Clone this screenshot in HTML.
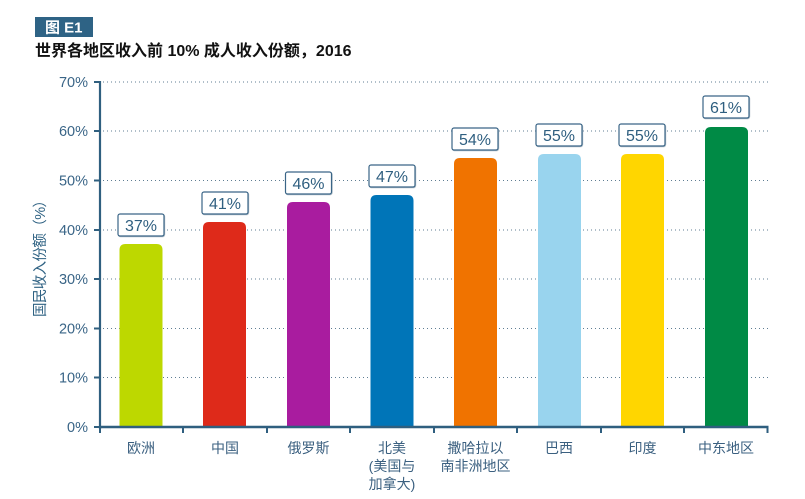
<!DOCTYPE html>
<html>
<head>
<meta charset="utf-8">
<style>
html,body{margin:0;padding:0;background:#fff;}
body{width:805px;height:499px;overflow:hidden;}
svg{display:block;}
</style>
</head>
<body>
<svg width="805" height="499" viewBox="0 0 805 499" xmlns="http://www.w3.org/2000/svg">
  <!-- badge -->
  <rect x="35" y="17" width="58" height="20" fill="#2E6385"/>
  <text x="45" y="32.5" font-family="Liberation Sans, Noto Sans CJK SC, sans-serif" font-size="15" font-weight="bold" fill="#ffffff">图 E1</text>
  <!-- title -->
  <text x="35" y="56" font-family="Liberation Sans, Noto Sans CJK SC, sans-serif" font-size="16" font-weight="bold" fill="#111">世界各地区收入前 10% 成人收入份额，2016</text>

  <!-- gridlines -->
  <g stroke="#5F7D93" stroke-width="1" stroke-dasharray="1 3">
    <line x1="103" y1="82" x2="768" y2="82"/>
    <line x1="103" y1="131" x2="768" y2="131"/>
    <line x1="103" y1="180.5" x2="768" y2="180.5"/>
    <line x1="103" y1="230" x2="768" y2="230"/>
    <line x1="103" y1="279" x2="768" y2="279"/>
    <line x1="103" y1="328.5" x2="768" y2="328.5"/>
    <line x1="103" y1="377.5" x2="768" y2="377.5"/>
  </g>

  <!-- y tick labels -->
  <g font-family="Liberation Sans, sans-serif" font-size="14.5" fill="#3A6587" text-anchor="end">
    <text x="88" y="87">70%</text>
    <text x="88" y="136">60%</text>
    <text x="88" y="185.5">50%</text>
    <text x="88" y="235">40%</text>
    <text x="88" y="284">30%</text>
    <text x="88" y="333.5">20%</text>
    <text x="88" y="382.5">10%</text>
    <text x="88" y="432">0%</text>
  </g>

  <!-- y axis label -->
  <text transform="translate(45,255) rotate(-90)" text-anchor="middle" font-family="Liberation Sans, Noto Sans CJK SC, sans-serif" font-size="14.5" fill="#2F6283" textLength="124" lengthAdjust="spacing">国民收入份额（%）</text>

  <!-- bars -->
  <g>
    <path d="M119.5,427 V250 Q119.5,244 125.5,244 H156.5 Q162.5,244 162.5,250 V427 Z" fill="#BDD800"/>
    <path d="M203,427 V228 Q203,222 209,222 H240 Q246,222 246,228 V427 Z" fill="#DE2A1A"/>
    <path d="M287,427 V208 Q287,202 293,202 H324 Q330,202 330,208 V427 Z" fill="#A91C9F"/>
    <path d="M370.5,427 V201 Q370.5,195 376.5,195 H407.5 Q413.5,195 413.5,201 V427 Z" fill="#0075B8"/>
    <path d="M454,427 V164 Q454,158 460,158 H491 Q497,158 497,164 V427 Z" fill="#F07300"/>
    <path d="M538,427 V160 Q538,154 544,154 H575 Q581,154 581,160 V427 Z" fill="#99D4EE"/>
    <path d="M621,427 V160 Q621,154 627,154 H658 Q664,154 664,160 V427 Z" fill="#FFD600"/>
    <path d="M705,427 V133 Q705,127 711,127 H742 Q748,127 748,133 V427 Z" fill="#008A45"/>
  </g>

  <!-- value boxes -->
  <g font-family="Liberation Sans, sans-serif" font-size="16" fill="#2F5F80" text-anchor="middle">
    <g>
      <rect x="118.6" y="214.6" width="46" height="22" rx="2" fill="#fff" stroke="#B3C0CA" stroke-width="1.2"/>
      <rect x="118" y="214" width="46" height="22" rx="2" fill="#fff" stroke="#3A6587" stroke-width="1.2"/>
      <text x="141" y="231">37%</text>
    </g>
    <g>
      <rect x="202.6" y="192.6" width="46" height="22" rx="2" fill="#fff" stroke="#B3C0CA" stroke-width="1.2"/>
      <rect x="202" y="192" width="46" height="22" rx="2" fill="#fff" stroke="#3A6587" stroke-width="1.2"/>
      <text x="225" y="209">41%</text>
    </g>
    <g>
      <rect x="286.1" y="172.6" width="46" height="22" rx="2" fill="#fff" stroke="#B3C0CA" stroke-width="1.2"/>
      <rect x="285.5" y="172" width="46" height="22" rx="2" fill="#fff" stroke="#3A6587" stroke-width="1.2"/>
      <text x="308.5" y="189">46%</text>
    </g>
    <g>
      <rect x="369.6" y="165.6" width="46" height="22" rx="2" fill="#fff" stroke="#B3C0CA" stroke-width="1.2"/>
      <rect x="369" y="165" width="46" height="22" rx="2" fill="#fff" stroke="#3A6587" stroke-width="1.2"/>
      <text x="392" y="182">47%</text>
    </g>
    <g>
      <rect x="452.6" y="128.6" width="46" height="22" rx="2" fill="#fff" stroke="#B3C0CA" stroke-width="1.2"/>
      <rect x="452" y="128" width="46" height="22" rx="2" fill="#fff" stroke="#3A6587" stroke-width="1.2"/>
      <text x="475" y="145">54%</text>
    </g>
    <g>
      <rect x="536.6" y="124.6" width="46" height="22" rx="2" fill="#fff" stroke="#B3C0CA" stroke-width="1.2"/>
      <rect x="536" y="124" width="46" height="22" rx="2" fill="#fff" stroke="#3A6587" stroke-width="1.2"/>
      <text x="559" y="141">55%</text>
    </g>
    <g>
      <rect x="619.6" y="124.6" width="46" height="22" rx="2" fill="#fff" stroke="#B3C0CA" stroke-width="1.2"/>
      <rect x="619" y="124" width="46" height="22" rx="2" fill="#fff" stroke="#3A6587" stroke-width="1.2"/>
      <text x="642" y="141">55%</text>
    </g>
    <g>
      <rect x="703.6" y="96.6" width="46" height="22" rx="2" fill="#fff" stroke="#B3C0CA" stroke-width="1.2"/>
      <rect x="703" y="96" width="46" height="22" rx="2" fill="#fff" stroke="#3A6587" stroke-width="1.2"/>
      <text x="726" y="113">61%</text>
    </g>
  </g>

  <!-- axes -->
  <g stroke="#2F5F7F" fill="none">
    <line x1="100" y1="81" x2="100" y2="429" stroke-width="2.2"/>
    <line x1="99" y1="427" x2="768.5" y2="427" stroke-width="2.6"/>
    <g stroke-width="2">
      <line x1="94" y1="82" x2="100" y2="82"/>
      <line x1="94" y1="131" x2="100" y2="131"/>
      <line x1="94" y1="180.5" x2="100" y2="180.5"/>
      <line x1="94" y1="230" x2="100" y2="230"/>
      <line x1="94" y1="279" x2="100" y2="279"/>
      <line x1="94" y1="328.5" x2="100" y2="328.5"/>
      <line x1="94" y1="377.5" x2="100" y2="377.5"/>
      <line x1="94" y1="427" x2="100" y2="427"/>
      <line x1="100" y1="427" x2="100" y2="433"/>
      <line x1="183" y1="427" x2="183" y2="433"/>
      <line x1="267" y1="427" x2="267" y2="433"/>
      <line x1="350" y1="427" x2="350" y2="433"/>
      <line x1="434" y1="427" x2="434" y2="433"/>
      <line x1="517" y1="427" x2="517" y2="433"/>
      <line x1="601" y1="427" x2="601" y2="433"/>
      <line x1="684" y1="427" x2="684" y2="433"/>
      <line x1="767.5" y1="427" x2="767.5" y2="433"/>
    </g>
  </g>

  <!-- category labels -->
  <g font-family="Liberation Sans, Noto Sans CJK SC, sans-serif" font-size="14" fill="#3B6080" text-anchor="middle">
    <text x="141" y="453">欧洲</text>
    <text x="225" y="453">中国</text>
    <text x="308.5" y="453">俄罗斯</text>
    <text x="392" y="453">北美</text>
    <text x="392" y="471">(美国与</text>
    <text x="392" y="489">加拿大)</text>
    <text x="475.5" y="453">撒哈拉以</text>
    <text x="475.5" y="471">南非洲地区</text>
    <text x="559" y="453">巴西</text>
    <text x="642.5" y="453">印度</text>
    <text x="726" y="453">中东地区</text>
  </g>
</svg>
</body>
</html>
